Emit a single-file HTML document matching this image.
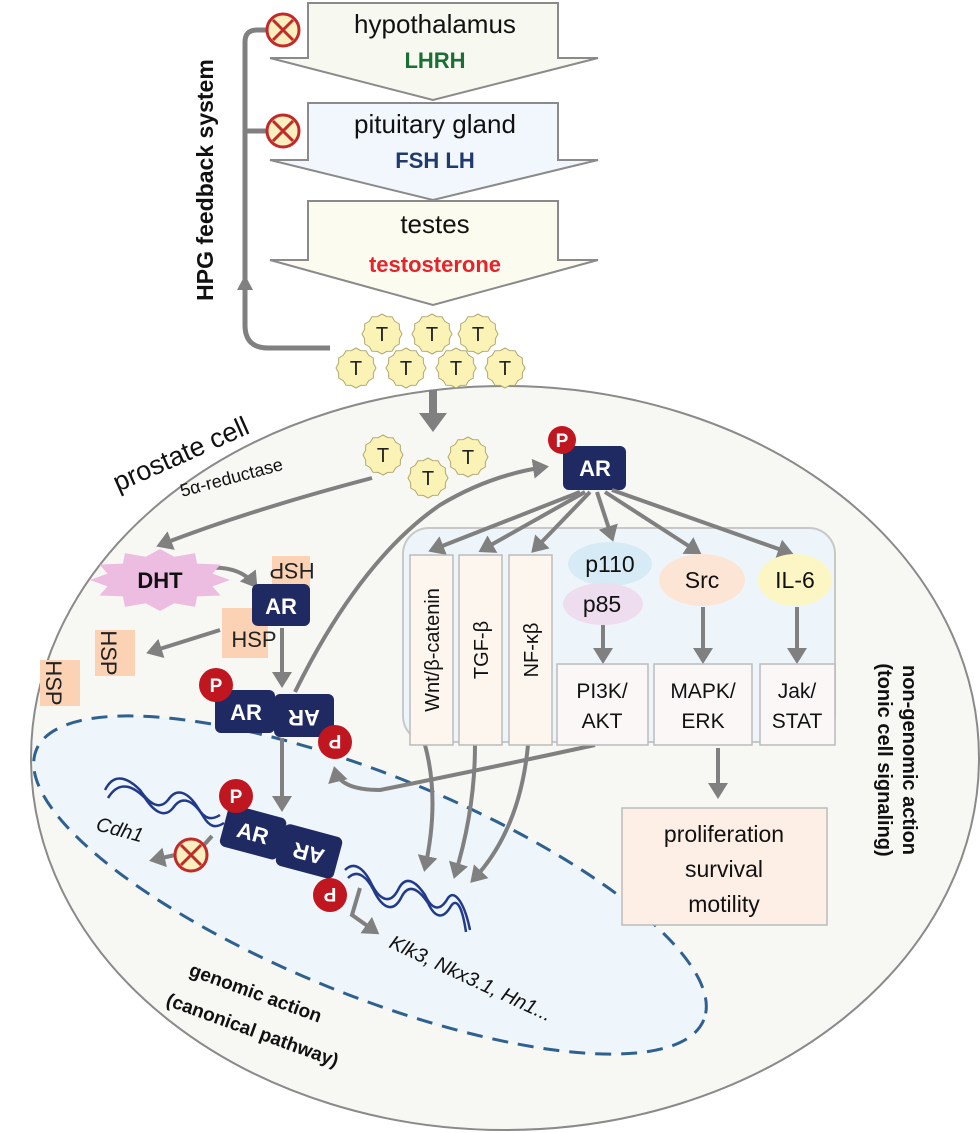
<!DOCTYPE html>
<html><head><meta charset="utf-8"><style>
html,body{margin:0;padding:0;background:#fff}
svg{display:block}
text{font-family:"Liberation Sans","DejaVu Sans",sans-serif}
</style></head><body>
<svg width="980" height="1133" viewBox="0 0 980 1133" xmlns="http://www.w3.org/2000/svg">
<defs>
<marker id="ah" markerWidth="5" markerHeight="5" refX="3" refY="2.5" orient="auto" markerUnits="strokeWidth"><path d="M0,0 L4,2.5 L0,5 z" fill="#808080"/></marker>
<polygon id="star" points="20,0 17.4,4.7 17.3,10 12.7,12.7 10,17.3 4.7,17.4 0,20 -4.7,17.4 -10,17.3 -12.7,12.7 -17.3,10 -17.4,4.7 -20,0 -17.4,-4.7 -17.3,-10 -12.7,-12.7 -10,-17.3 -4.7,-17.4 0,-20 4.7,-17.4 10,-17.3 12.7,-12.7 17.3,-10 17.4,-4.7"/>
<polygon id="spiky" points="20,0 15,4.1 17.3,10 10.6,10.6 10,17.3 4.1,15 0,20 -4.1,15 -10,17.3 -10.6,10.6 -17.3,10 -15,4.1 -20,0 -15,-4.1 -17.3,-10 -10.6,-10.6 -10,-17.3 -4.1,-15 0,-20 4.1,-15 10,-17.3 10.6,-10.6 17.3,-10 15,-4.1"/>
<g id="inh"><circle r="16" fill="#fbefbf" stroke="#c22a2a" stroke-width="3"/><path d="M-10,-10 L10,10 M10,-10 L-10,10" stroke="#c22a2a" stroke-width="3"/></g>
<g id="T"><use href="#star" fill="#fbf3b5" stroke="#b0a870" stroke-width="1"/></g>
</defs>

<ellipse cx="505" cy="758" rx="474" ry="372" fill="#f7f8f3" stroke="#8a8a8a" stroke-width="2"/>
<ellipse cx="370" cy="885" rx="360" ry="110" transform="rotate(22 370 885)" fill="#eef5fb" stroke="#2e6090" stroke-width="3" stroke-dasharray="16 10"/>

<polygon points="308,3 558,3 558,58 598,58 433,100 270,58 308,58" fill="#f7f9f0" stroke="#8a8a8a" stroke-width="2"/>
<polygon points="308,103 558,103 558,160 598,160 433,200 270,160 308,160" fill="#f1f7fc" stroke="#8a8a8a" stroke-width="2"/>
<polygon points="308,201 558,201 558,260 598,260 433,305 270,260 308,260" fill="#fbfcef" stroke="#8a8a8a" stroke-width="2"/>
<text x="435" y="33" font-size="26" text-anchor="middle" fill="#111">hypothalamus</text>
<text x="435" y="68" font-size="22" font-weight="bold" text-anchor="middle" fill="#1a7034">LHRH</text>
<text x="435" y="133" font-size="26" text-anchor="middle" fill="#111">pituitary gland</text>
<text x="435" y="168" font-size="22" font-weight="bold" text-anchor="middle" fill="#213a6e">FSH LH</text>
<text x="435" y="233" font-size="26" text-anchor="middle" fill="#111">testes</text>
<text x="435" y="272" font-size="22" font-weight="bold" text-anchor="middle" fill="#e8222a">testosterone</text>

<path d="M330,348 L268,348 Q245,348 245,325 L245,42 Q245,30 257,30 L268,30 M245,131 L268,131" fill="none" stroke="#808080" stroke-width="5"/>
<polygon points="237,290 253,290 245,275" fill="#808080"/>
<use href="#inh" x="283" y="30"/>
<use href="#inh" x="283" y="131"/>
<text transform="translate(213,180) rotate(-90)" font-size="23" font-weight="bold" text-anchor="middle" fill="#111">HPG feedback system</text>

<g font-family="Liberation Serif,serif" font-size="20" text-anchor="middle" fill="#222">
<use href="#T" x="382" y="334"/><text x="382" y="341">T</text>
<use href="#T" x="432" y="334"/><text x="432" y="341">T</text>
<use href="#T" x="478" y="334"/><text x="478" y="341">T</text>
<use href="#T" x="356" y="368"/><text x="356" y="375">T</text>
<use href="#T" x="406" y="368"/><text x="406" y="375">T</text>
<use href="#T" x="456" y="368"/><text x="456" y="375">T</text>
<use href="#T" x="505" y="368"/><text x="505" y="375">T</text>
<use href="#T" x="383" y="455"/><text x="383" y="462">T</text>
<use href="#T" x="428" y="478"/><text x="428" y="485">T</text>
<use href="#T" x="468" y="457"/><text x="468" y="464">T</text>
</g>
<path d="M433,390 L433,415" stroke="#808080" stroke-width="8"/>
<polygon points="419,413 447,413 433,432" fill="#808080"/>

<text transform="translate(118,492) rotate(-24)" font-size="27" fill="#111">prostate cell</text>
<text transform="translate(182,497) rotate(-15)" font-size="18" fill="#111">5α-reductase</text>

<g fill="none" stroke="#808080" stroke-width="4" marker-end="url(#ah)">
<path d="M372,478 Q250,510 160,545"/>
<path d="M205,568 Q240,565 255,585"/>
<path d="M220,630 L150,652"/>
<path d="M282,628 L282,684"/>
<path d="M295,692 Q360,560 440,505 Q490,475 545,467"/>
<path d="M282,738 L282,808"/>
<path d="M595,745 Q480,770 380,790 Q340,790 335,770"/>
<path d="M718,748 L718,795"/>
<path d="M425,745 Q440,800 425,868"/>
<path d="M475,745 Q475,810 455,875"/>
<path d="M528,745 Q520,830 473,880"/>
<path d="M360,888 L352,915 L376,932"/>
<path d="M175,855 L153,860"/>
</g>
<path d="M212,836 L203,846" stroke="#808080" stroke-width="4"/>
<use href="#inh" x="191" y="855"/>

<use href="#spiky" transform="translate(160,580) scale(3.5,1.55)" fill="#ecbde0" stroke="none"/>
<text x="160" y="588" font-size="22" font-weight="bold" text-anchor="middle" fill="#111">DHT</text>

<g font-size="22" fill="#222">
<rect x="272" y="556" width="38" height="40" fill="#fbd2b4"/>
<text transform="translate(292,563) rotate(180)" text-anchor="middle">HSP</text>
<rect x="222" y="608" width="46" height="50" fill="#fbd2b4"/>
<text x="254" y="647" text-anchor="middle">HSP</text>
<rect x="95" y="630" width="40" height="46" fill="#fbd2b4"/>
<text transform="translate(101,653) rotate(90)" text-anchor="middle">HSP</text>
<rect x="40" y="660" width="40" height="46" fill="#fbd2b4"/>
<text transform="translate(46,683) rotate(90)" text-anchor="middle">HSP</text>
</g>

<g font-weight="bold" font-size="22" fill="#fff" text-anchor="middle">
<rect x="252" y="584" width="58" height="42" rx="6" fill="#1f2a63"/>
<text x="281" y="614">AR</text>
<rect x="215" y="690" width="60" height="43" rx="6" fill="#1f2a63"/>
<rect x="274" y="694" width="60" height="43" rx="6" fill="#1f2a63"/>
<text x="246" y="720">AR</text>
<text transform="translate(304,710) rotate(180)">AR</text>
<g transform="rotate(15 280 840)">
<rect x="222" y="818" width="60" height="43" rx="6" fill="#1f2a63"/>
<rect x="281" y="822" width="60" height="43" rx="6" fill="#1f2a63"/>
<text x="252" y="848">AR</text>
<text transform="translate(311,838) rotate(180)">AR</text>
</g>
<rect x="563" y="446" width="63" height="44" rx="6" fill="#1f2a63"/>
<text x="595" y="476">AR</text>
</g>
<g font-weight="bold" font-size="19" fill="#fff" text-anchor="middle">
<circle cx="216" cy="685" r="17" fill="#c0161f"/><text x="216" y="692">P</text>
<circle cx="335" cy="742" r="17" fill="#c0161f"/><text transform="translate(335,735) rotate(180)">P</text>
<circle cx="236" cy="796" r="17" fill="#c0161f"/><text x="236" y="803">P</text>
<circle cx="330" cy="895" r="17" fill="#c0161f"/><text transform="translate(330,888) rotate(180)">P</text>
<circle cx="562" cy="440" r="14" fill="#c0161f"/><text x="562" y="447">P</text>
</g>

<g fill="none" stroke="#213a8a" stroke-width="2.5">
<path d="M105,790 C115,770 130,780 140,790 C150,805 160,810 168,800 C178,785 190,795 198,808 C205,820 212,820 220,815"/>
<path d="M108,798 C120,778 135,788 145,798 C155,813 165,818 173,808 C183,793 195,803 203,816 C210,828 216,828 224,823"/>
<path d="M345,870 C355,860 365,870 372,885 C380,900 390,905 398,890 C405,875 415,880 425,895 C432,910 440,912 448,898 C455,888 465,905 470,930"/>
<path d="M348,878 C358,868 368,878 375,893 C383,908 393,913 401,898 C408,883 418,888 428,903 C435,918 443,920 451,906 C458,896 463,912 466,932"/>
</g>

<text transform="translate(95,830) rotate(15)" font-size="20" font-style="italic" fill="#111">Cdh1</text>
<text transform="translate(388,947) rotate(25)" font-size="20" font-style="italic" fill="#111">Klk3, Nkx3.1, Hn1...</text>
<text transform="translate(188,975) rotate(20)" font-size="19" font-weight="bold" fill="#111">genomic action</text>
<text transform="translate(165,1005) rotate(20)" font-size="19" font-weight="bold" fill="#111">(canonical pathway)</text>

<rect x="403" y="528" width="432" height="214" rx="26" fill="#eef5fa" stroke="#c8c8c8" stroke-width="2"/>
<g fill="none" stroke="#808080" stroke-width="4" marker-end="url(#ah)">
<path d="M580,492 L432,550"/>
<path d="M585,492 L482,550"/>
<path d="M590,492 L534,550"/>
<path d="M597,492 L612,538"/>
<path d="M605,492 L698,552"/>
<path d="M612,490 L790,553"/>
<path d="M603,625 L603,660"/>
<path d="M703,607 L703,660"/>
<path d="M797,607 L797,660"/>
</g>
<g fill="#fcf6ee" stroke="#bbb" stroke-width="1.5">
<rect x="410" y="555" width="43" height="190"/>
<rect x="459" y="555" width="43" height="190"/>
<rect x="509" y="555" width="43" height="190"/>
</g>
<g fill="#fbf7f7" stroke="#bbb" stroke-width="1.5">
<rect x="557" y="664" width="91" height="81"/>
<rect x="654" y="664" width="98" height="81"/>
<rect x="760" y="664" width="75" height="81"/>
</g>
<g font-size="20" fill="#111" text-anchor="middle">
<text transform="translate(439,650) rotate(-90)">Wnt/β-catenin</text>
<text transform="translate(488,650) rotate(-90)">TGF-β</text>
<text transform="translate(538,650) rotate(-90)">NF-κβ</text>
</g>
<ellipse cx="610" cy="564" rx="42" ry="22" fill="#d7ebf6"/>
<ellipse cx="603" cy="604" rx="40" ry="21" fill="#eedcef"/>
<ellipse cx="702" cy="580" rx="43" ry="26" fill="#fde5d6"/>
<ellipse cx="795" cy="580" rx="37" ry="26" fill="#fbf6c4"/>
<g font-size="23" fill="#111" text-anchor="middle">
<text x="610" y="572">p110</text>
<text x="602" y="612">p85</text>
<text x="702" y="588">Src</text>
<text x="795" y="588">IL-6</text>
</g>
<g font-size="21" fill="#111" text-anchor="middle">
<text x="602" y="698">PI3K/</text><text x="602" y="728">AKT</text>
<text x="703" y="698">MAPK/</text><text x="703" y="728">ERK</text>
<text x="797" y="698">Jak/</text><text x="797" y="728">STAT</text>
</g>

<rect x="622" y="808" width="205" height="117" fill="#fdefe5" stroke="#bbb" stroke-width="1.5"/>
<g font-size="23" fill="#111" text-anchor="middle">
<text x="724" y="842">proliferation</text>
<text x="724" y="877">survival</text>
<text x="724" y="912">motility</text>
</g>
<text transform="translate(903,760) rotate(90)" font-size="20" font-weight="bold" text-anchor="middle" fill="#111">non-genomic action</text>
<text transform="translate(878,760) rotate(90)" font-size="20" font-weight="bold" text-anchor="middle" fill="#111">(tonic cell signaling)</text>
</svg>
</body></html>
